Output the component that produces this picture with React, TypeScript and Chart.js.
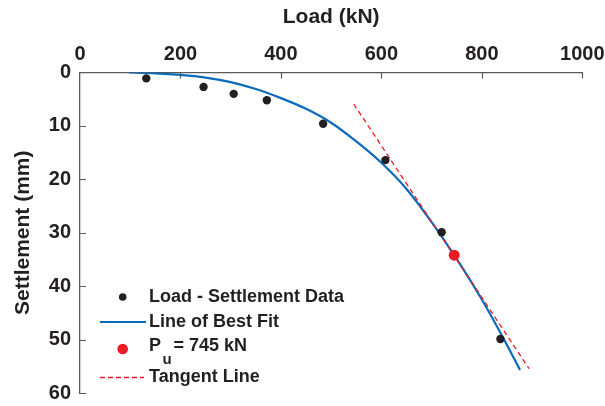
import React, { useEffect, useRef } from "react";
import { Chart, registerables } from "chart.js";

Chart.register(...registerables);

// Measured load-settlement data
const dataLoad = [132, 246, 306, 372, 484, 608, 720, 837];
const dataSettlement = [1.1, 2.7, 4.0, 5.2, 9.6, 16.4, 29.9, 49.9];

// Line of best fit
const fitLoad = [98, 150, 200, 250, 300, 350, 400, 450, 500, 550, 600, 650, 700, 745, 800, 850, 876];
const fitSettlement = [0, 0.15, 0.45, 0.95, 1.8, 3.1, 4.8, 6.8, 9.4, 12.9, 16.9, 21.8, 28.0, 34.2, 42.5, 51.0, 55.7];

// Ultimate load point
const puLoad = [745];
const puSettlement = [34.2];

// Tangent line end points
const tangentLoad = [545, 894];
const tangentSettlement = [5.9, 55.45];

// Axis ticks
const xTickValues = [0, 200, 400, 600, 800, 1000];
const yTickValues = [0, 10, 20, 30, 40, 50, 60];

const legendLabels = ["Load - Settlement Data", "Line of Best Fit", "P", "Tangent Line"];

const FONT = "'Liberation Sans', Arial, Helvetica, sans-serif";
const TEXT = "#231f20";
const AXIS = "#5a5a5a";
const BLUE = "#0a6bbd";
const RED = "#ec1c24";

const toPts = (xs: number[], ys: number[]) => xs.map((x, i) => ({ x, y: ys[i] }));

const decorPlugin = {
  id: "decor",
  afterDraw(chart: any) {
    const ctx = chart.ctx;
    const xs = chart.scales.x;
    const ys = chart.scales.y;
    const area = chart.chartArea;
    ctx.save();
    // inward tick marks
    ctx.strokeStyle = AXIS;
    ctx.lineWidth = 1.2;
    ctx.beginPath();
    xTickValues.forEach((v) => {
      if (v === 0) return;
      const px = Math.round(xs.getPixelForValue(v)) + 0.5;
      ctx.moveTo(px, area.top);
      ctx.lineTo(px, area.top + 6);
    });
    yTickValues.forEach((v) => {
      if (v === 0) return;
      const py = Math.round(ys.getPixelForValue(v)) + 0.5;
      ctx.moveTo(area.left, py);
      ctx.lineTo(area.left + 6, py);
    });
    ctx.stroke();

    // legend
    const tx = 149;
    const rows = [297, 322, 346, 377.5];
    ctx.font = `bold 18px ${FONT}`;
    ctx.fillStyle = TEXT;
    ctx.textBaseline = "middle";
    ctx.textAlign = "left";

    // row 1: black dot
    ctx.beginPath();
    ctx.arc(122.7, 297, 3.8, 0, Math.PI * 2);
    ctx.fillStyle = TEXT;
    ctx.fill();
    ctx.fillText(legendLabels[0], tx, rows[0]);

    // row 2: blue line
    ctx.beginPath();
    ctx.strokeStyle = BLUE;
    ctx.lineWidth = 2;
    ctx.moveTo(100, 322);
    ctx.lineTo(146, 322);
    ctx.stroke();
    ctx.fillText(legendLabels[1], tx, rows[1]);

    // row 3: red dot with P_u
    ctx.beginPath();
    ctx.arc(122.7, 349, 5.3, 0, Math.PI * 2);
    ctx.fillStyle = RED;
    ctx.fill();
    ctx.fillStyle = TEXT;
    ctx.fillText(legendLabels[2], tx, rows[2]);
    const pw = ctx.measureText(legendLabels[2]).width;
    ctx.font = `bold 15px ${FONT}`;
    ctx.fillText("u", tx + pw + 1.5, rows[2] + 14);
    ctx.font = `bold 18px ${FONT}`;
    ctx.fillText("= " + puLoad[0] + " kN", 173.5, rows[2]);

    // row 4: red dashed
    ctx.beginPath();
    ctx.strokeStyle = RED;
    ctx.lineWidth = 1.3;
    ctx.setLineDash([5, 3]);
    ctx.moveTo(100, 377.5);
    ctx.lineTo(144, 377.5);
    ctx.stroke();
    ctx.setLineDash([]);
    ctx.fillText(legendLabels[3], tx, rows[3]);
    ctx.restore();
  },
};

export default function App() {
  const ref = useRef<HTMLCanvasElement | null>(null);
  useEffect(() => {
    if (!ref.current) return;
    const chart = new Chart(ref.current, {
      type: "scatter",
      data: {
        datasets: [
          {
            label: "P_u",
            data: toPts(puLoad, puSettlement),
            backgroundColor: RED,
            borderColor: RED,
            pointRadius: 5.5,
            borderWidth: 0,
            order: 0,
          },
          {
            label: "Load - Settlement Data",
            data: toPts(dataLoad, dataSettlement),
            backgroundColor: TEXT,
            borderColor: TEXT,
            pointRadius: 4.2,
            borderWidth: 0,
            order: 1,
          },
          {
            label: "Tangent Line",
            data: toPts(tangentLoad, tangentSettlement),
            showLine: true,
            borderColor: RED,
            borderWidth: 1.3,
            borderDash: [5, 3.5],
            pointRadius: 0,
            order: 2,
          },
          {
            label: "Line of Best Fit",
            data: toPts(fitLoad, fitSettlement),
            showLine: true,
            borderColor: BLUE,
            borderWidth: 2.2,
            pointRadius: 0,
            cubicInterpolationMode: "monotone",
            order: 3,
          },
        ],
      },
      options: {
        animation: false,
        responsive: false,
        events: [],
        layout: { padding: { top: 0, left: 0, right: 22.7, bottom: 13 } },
        plugins: { legend: { display: false }, tooltip: { enabled: false } },
        scales: {
          x: {
            type: "linear",
            position: "top",
            min: 0,
            max: 1000,
            afterFit: (s: any) => {
              s.height = 72.5;
              s.paddingLeft = 0;
              s.paddingRight = 0;
            },
            afterBuildTicks: (s: any) => {
              s.ticks = xTickValues.map((v) => ({ value: v }));
            },
            grid: { display: false, drawTicks: false },
            border: { display: true, color: AXIS, width: 1.3 },
            ticks: {
              padding: 6.5,
              color: TEXT,
              font: { family: FONT, size: 20, weight: "bold" },
              maxRotation: 0,
              callback: (v: any) => String(v),
            },
            title: {
              display: true,
              text: "Load (kN)",
              color: TEXT,
              font: { family: FONT, size: 21, weight: "bold" },
              padding: { top: 5, bottom: 0 },
            },
          },
          y: {
            type: "linear",
            position: "left",
            reverse: true,
            min: 0,
            max: 60,
            afterFit: (s: any) => {
              s.width = 80;
              s.paddingTop = 0;
              s.paddingBottom = 0;
            },
            afterBuildTicks: (s: any) => {
              s.ticks = yTickValues.map((v) => ({ value: v }));
            },
            grid: { display: false, drawTicks: false },
            border: { display: true, color: AXIS, width: 1.3 },
            ticks: {
              padding: 9,
              color: TEXT,
              font: { family: FONT, size: 20, weight: "bold" },
              callback: (v: any) => String(v),
            },
            title: {
              display: true,
              text: "Settlement (mm)",
              color: TEXT,
              font: { family: FONT, size: 21, weight: "bold" },
              padding: { top: 11, bottom: 0 },
            },
          },
        },
      },
      plugins: [decorPlugin],
    } as any);
    return () => chart.destroy();
  }, []);
  return (
    <div style={{ position: "fixed", left: 0, top: 0, width: 605, height: 406, background: "#fff" }}>
      <canvas ref={ref} width={605} height={406} style={{ display: "block" }} />
    </div>
  );
}
